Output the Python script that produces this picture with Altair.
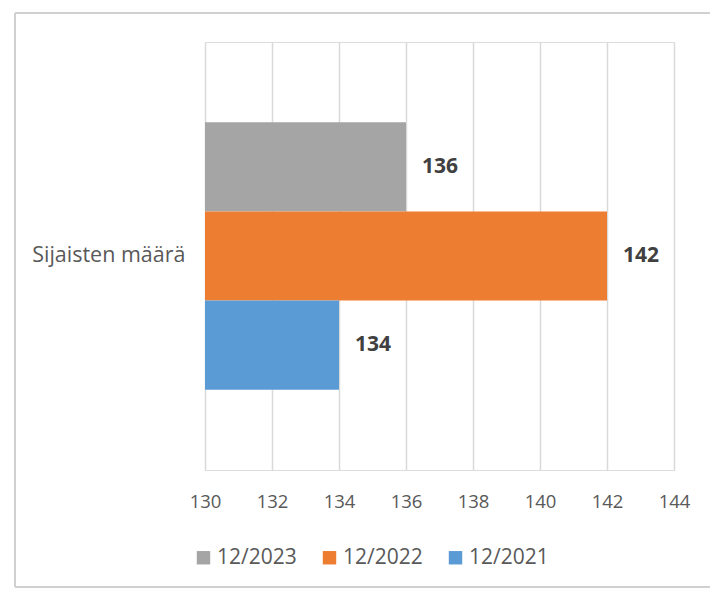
import altair as alt
import pandas as pd

categories = ["Sijaisten määrä"]
series = ["12/2023", "12/2022", "12/2021"]
values = [136, 142, 134]
colors = ["#a5a5a5", "#ed7d31", "#5b9bd5"]
x_ticks = [130, 132, 134, 136, 138, 140, 142, 144]

df = pd.DataFrame({
    "kategoria": categories * len(series),
    "sarja": series,
    "arvo": values,
})

FONT = "Open Sans"

y_enc = alt.Y("kategoria:N", title=None,
              scale=alt.Scale(paddingInner=0, paddingOuter=0.30),
              axis=alt.Axis(domain=False, ticks=False, grid=False, labelFontSize=21.5,
                            labelColor="#595959", labelPadding=20, labelFont=FONT))
yoff_enc = alt.YOffset("sarja:N", sort=series,
                       scale=alt.Scale(paddingInner=0, paddingOuter=0))
x_enc = alt.X("arvo:Q", title=None,
              scale=alt.Scale(domain=[130, 144], nice=False, zero=False),
              axis=alt.Axis(values=x_ticks, domain=False, ticks=False, grid=True,
                            labelFlush=False,
                            gridColor="#d9d9d9", gridWidth=1.5, labelFontSize=18.5,
                            labelColor="#595959", labelPadding=22, labelFont=FONT))

bars = alt.Chart(df).mark_bar().encode(
    y=y_enc,
    yOffset=yoff_enc,
    x=x_enc,
    x2=alt.datum(130),
    color=alt.Color("sarja:N", title=None,
                    scale=alt.Scale(domain=series, range=colors),
                    legend=alt.Legend(orient="none", direction="horizontal",
                                      legendX=-12, legendY=505,
                                      symbolType="square", symbolSize=180,
                                      symbolStrokeWidth=0, labelFontSize=21,
                                      labelOffset=3,
                                      labelColor="#595959", labelFont=FONT,
                                      columnPadding=22)),
)

labels = alt.Chart(df).mark_text(align="left", baseline="middle", dx=16,
                                 fontSize=21, fontWeight="bold",
                                 color="#404040", font=FONT).encode(
    y=alt.Y("kategoria:N"),
    yOffset=alt.YOffset("sarja:N", sort=series),
    x=alt.X("arvo:Q"),
    text=alt.Text("arvo:Q"),
)

frame_data = alt.Data(values=[{"k": 1}])
frame_top = alt.Chart(frame_data).mark_rule(color="#d0d0d0", strokeWidth=2).encode(
    x=alt.value(-190), x2=alt.value(513), y=alt.value(-29))
frame_bottom = alt.Chart(frame_data).mark_rule(color="#d0d0d0", strokeWidth=2).encode(
    x=alt.value(-190), x2=alt.value(513), y=alt.value(545))
frame_left = alt.Chart(frame_data).mark_rule(color="#d0d0d0", strokeWidth=2).encode(
    x=alt.value(-190), y=alt.value(-29), y2=alt.value(545))

chart = alt.layer(bars, labels, frame_top, frame_bottom, frame_left).properties(
    width=469, height=428,
    autosize=alt.AutoSizeParams(type="none"),
    padding={"left": 197, "top": 34, "right": 36, "bottom": 119},
).configure_view(strokeWidth=0, stroke="transparent").configure(font=FONT)

chart.save("out.html", embed_options={"renderer": "svg", "actions": False})
